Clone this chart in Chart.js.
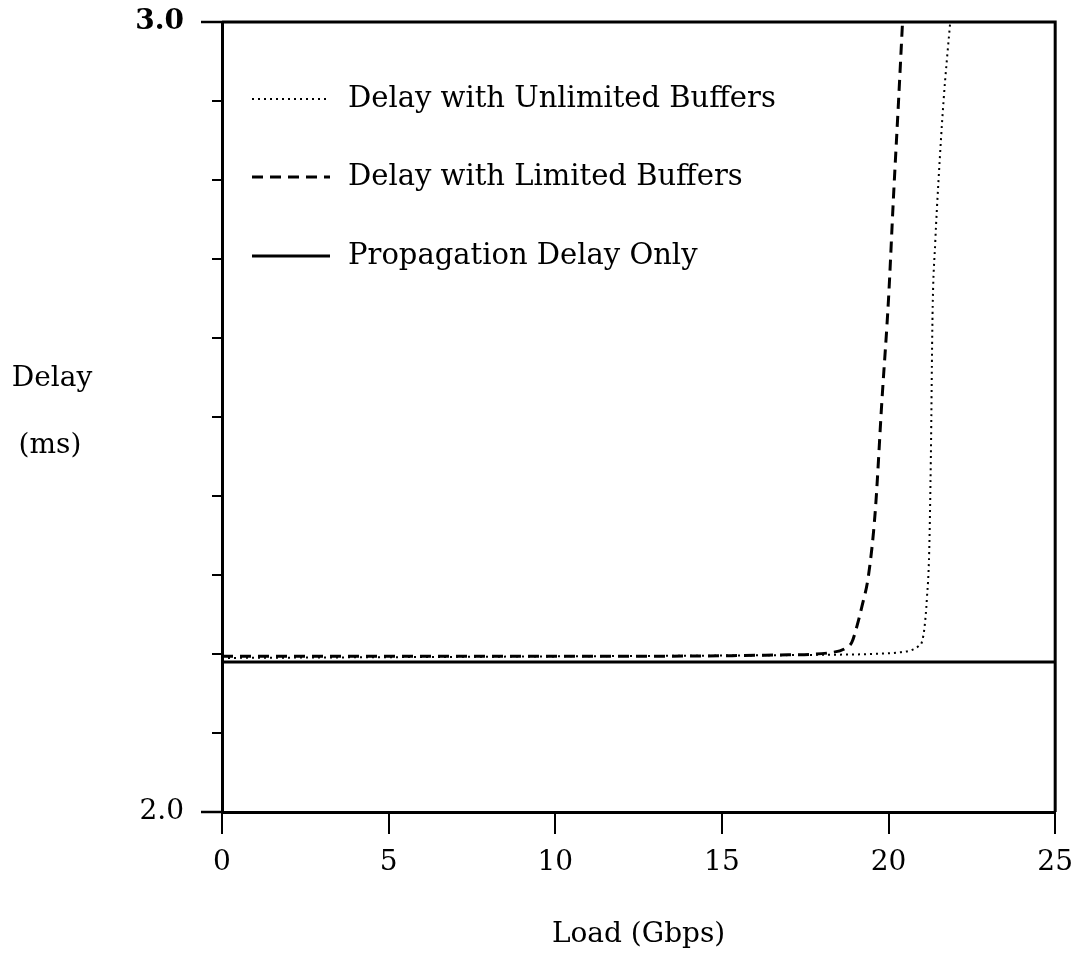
<!DOCTYPE html>
<html>
<head>
<meta charset="utf-8">
<title>Delay vs Load</title>
<script src="https://cdn.jsdelivr.net/npm/chart.js@4.4.1/dist/chart.umd.min.js"></script>
<style>
  html, body { margin: 0; padding: 0; background: #fff; }
  canvas { display: block; }
</style>
</head>
<body>
<canvas id="delayChart" width="1085" height="964"></canvas>
<script>
// Series labels
const seriesLabels = ['Delay with Unlimited Buffers', 'Delay with Limited Buffers', 'Propagation Delay Only'];

// Load (Gbps) / Delay (ms)
const unlimitedX = [0, 10, 18, 19.5, 20.3, 20.7, 20.9, 21.0, 21.08, 21.15, 21.22, 21.27, 21.32, 21.4, 21.5, 21.65, 21.85];
const unlimitedY = [2.195, 2.197, 2.199, 2.2, 2.202, 2.205, 2.21, 2.215, 2.234, 2.27, 2.33, 2.45, 2.63, 2.72, 2.8, 2.9, 3.0];

const limitedX = [0, 10, 17, 18.3, 18.7, 18.9, 19.05, 19.2, 19.4, 19.6, 19.8, 20.0, 20.15, 20.3, 20.42];
const limitedY = [2.197, 2.197, 2.199, 2.202, 2.207, 2.215, 2.235, 2.26, 2.3, 2.38, 2.52, 2.65, 2.78, 2.9, 3.0];

const propX = [0, 25];
const propY = [2.19, 2.19];

// Axis ticks
const xTicks = [0, 5, 10, 15, 20, 25];
const yLabelled = [2.0, 3.0];

const FONT = 'DejaVu Serif';

function toPoints(xs, ys) {
    return xs.map((x, i) => ({ x: x, y: ys[i] }));
}

// Box frame, longer labelled y ticks, y title, in-plot legend
const framePlugin = {
    id: 'frame',
    beforeDraw(chart) {
        const ctx = chart.ctx;
        ctx.save();
        ctx.fillStyle = '#fff';
        ctx.fillRect(0, 0, chart.width, chart.height);
        ctx.restore();
    },
    afterDraw(chart) {
        const ctx = chart.ctx;
        const a = chart.chartArea;
        const yScale = chart.scales.y;
        ctx.save();
        ctx.strokeStyle = '#000';
        ctx.lineWidth = 3;
        ctx.beginPath();
        ctx.moveTo(a.left, a.top);
        ctx.lineTo(a.right, a.top);
        ctx.lineTo(a.right, a.bottom);
        ctx.stroke();

        // labelled ticks reach further out
        ctx.lineWidth = 2.5;
        yLabelled.forEach(v => {
            const py = yScale.getPixelForValue(v);
            ctx.beginPath();
            ctx.moveTo(a.left - 21, py);
            ctx.lineTo(a.left, py);
            ctx.stroke();
        });

        // y axis title, two lines, horizontal
        ctx.fillStyle = '#000';
        ctx.font = '28px "' + FONT + '"';
        ctx.textAlign = 'center';
        ctx.textBaseline = 'middle';
        ctx.fillText('Delay', 52, 379);
        ctx.fillText('(ms)', 50, 446);

        // legend
        const rows = [99, 177, 256];
        ctx.font = '29px "' + FONT + '"';
        ctx.textAlign = 'left';
        chart.data.datasets.forEach((ds, i) => {
            const ly = rows[i];
            ctx.beginPath();
            ctx.lineWidth = ds.borderWidth;
            ctx.setLineDash(ds.borderDash || []);
            ctx.moveTo(252, ly);
            ctx.lineTo(330, ly);
            ctx.stroke();
            ctx.setLineDash([]);
            ctx.fillText(ds.label, 348, ly);
        });
        ctx.restore();
    }
};

new Chart(document.getElementById('delayChart'), {
    type: 'line',
    data: {
        datasets: [
            {
                label: seriesLabels[0],
                data: toPoints(unlimitedX, unlimitedY),
                borderColor: '#000',
                borderWidth: 2,
                borderDash: [2, 4],
                cubicInterpolationMode: 'monotone',
                pointRadius: 0,
                fill: false
            },
            {
                label: seriesLabels[1],
                data: toPoints(limitedX, limitedY),
                borderColor: '#000',
                borderWidth: 3,
                borderDash: [11, 7],
                cubicInterpolationMode: 'monotone',
                pointRadius: 0,
                fill: false
            },
            {
                label: seriesLabels[2],
                data: toPoints(propX, propY),
                borderColor: '#000',
                borderWidth: 3,
                pointRadius: 0,
                fill: false
            }
        ]
    },
    options: {
        responsive: false,
        animation: false,
        devicePixelRatio: 1,
        layout: { padding: { left: 0, right: 27, top: 22, bottom: 0 } },
        plugins: {
            legend: { display: false },
            tooltip: { enabled: false }
        },
        scales: {
            x: {
                type: 'linear',
                min: 0,
                max: 25,
                afterBuildTicks: scale => { scale.ticks = xTicks.map(v => ({ value: v })); },
                afterFit: scale => { scale.height = 152; },
                grid: { drawOnChartArea: false, drawTicks: true, tickLength: 22, color: '#000', lineWidth: 2 },
                border: { display: true, color: '#000', width: 3 },
                ticks: { color: '#000', padding: 12, font: { family: FONT, size: 28 }, maxRotation: 0 },
                title: {
                    display: true,
                    text: 'Load (Gbps)',
                    color: '#000',
                    font: { family: FONT, size: 28 },
                    padding: { top: 0, bottom: 12 }
                }
            },
            y: {
                type: 'linear',
                min: 2.0,
                max: 3.0,
                afterFit: scale => {
                    scale.width = 222;
                    scale.paddingTop = 0;
                    scale.paddingBottom = 0;
                },
                grid: { drawOnChartArea: false, drawTicks: true, tickLength: 10, color: '#000', lineWidth: 2 },
                border: { display: true, color: '#000', width: 3 },
                ticks: {
                    stepSize: 0.1,
                    color: '#000',
                    padding: 28,
                    callback: v => yLabelled.some(t => Math.abs(t - v) < 1e-6) ? Number(v).toFixed(1) : '',
                    font: c => ({
                        family: FONT,
                        size: 28,
                        weight: (c.tick && Math.abs(c.tick.value - 3) < 1e-6) ? 'bold' : 'normal'
                    })
                }
            }
        }
    },
    plugins: [framePlugin]
});
</script>
</body>
</html>
